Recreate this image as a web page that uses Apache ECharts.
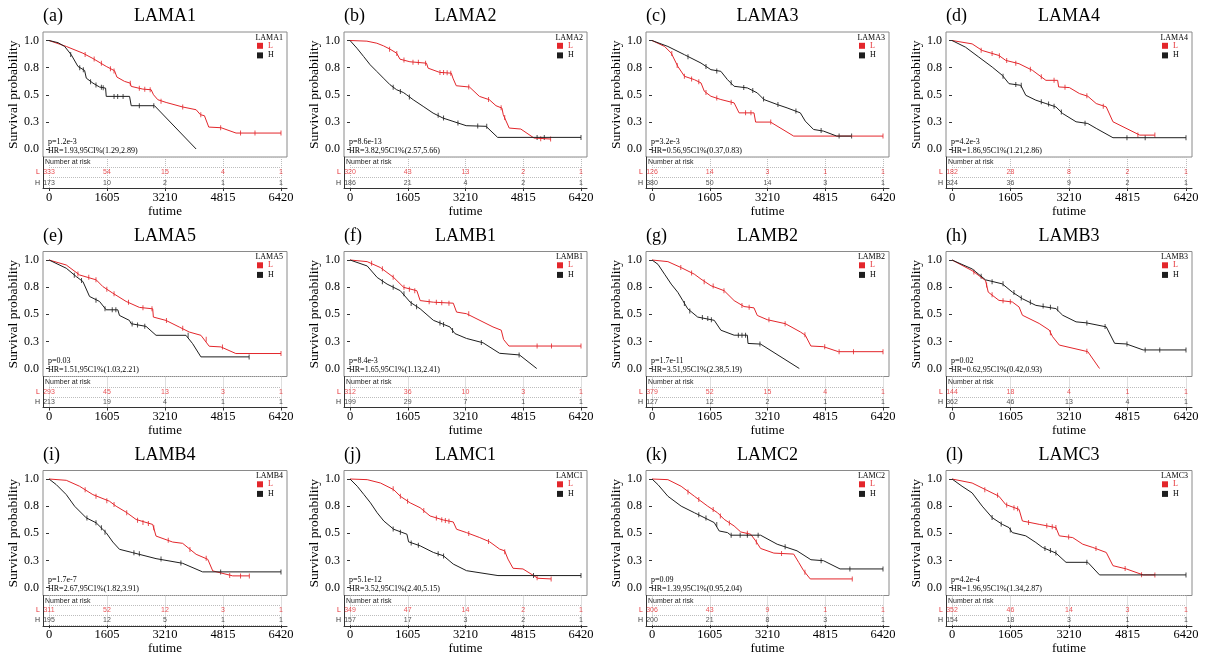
<!DOCTYPE html>
<html>
<head>
<meta charset="utf-8">
<script src="https://cdn.jsdelivr.net/npm/echarts@6/dist/echarts.min.js"></script>
<style>
html,body{margin:0;padding:0;background:#fff;}
#main{width:1205px;height:656px;}
</style>
</head>
<body>
<div id="main"></div>
<script>
// panels
var genes = ['LAMA1','LAMA2','LAMA3','LAMA4','LAMA5','LAMB1','LAMB2','LAMB3','LAMB4','LAMC1','LAMC2','LAMC3'];
var tags = ['(a)','(b)','(c)','(d)','(e)','(f)','(g)','(h)','(i)','(j)','(k)','(l)'];
var pValues = ['1.2e-3','8.6e-13','3.2e-3','4.2e-3','0.03','8.4e-3','1.7e-11','0.02','1.7e-7','5.1e-12','0.09','4.2e-4'];
var hrTexts = ['HR=1.93,95CI%(1.29,2.89)','HR=3.82,95C1%(2.57,5.66)','HR=0.56,95C1%(0.37,0.83)','HR=1.86,95C1%(1.21,2.86)',
  'HR=1.51,95C1%(1.03,2.21)','HR=1.65,95C1%(1.13,2.41)','HR=3.51,95C1%(2.38,5.19)','HR=0.62,95C1%(0.42,0.93)',
  'HR=2.67,95C1%(1.82,3.91)','HR=3.52,95C1%(2.40,5.15)','HR=1.39,95C1%(0.95,2.04)','HR=1.96,95C1%(1.34,2.87)'];

// axes
var timeTicks = [0, 1605, 3210, 4815, 6420];
var yTickLabels = ['0.0', '0.3', '0.5', '0.8', '1.0'];

// number at risk
var riskL = [[333,54,15,4,1],[320,43,13,2,1],[126,14,3,1,1],[182,28,8,2,1],[293,45,13,3,1],[312,36,10,3,1],
  [379,52,15,4,1],[144,18,4,1,1],[311,52,12,3,1],[349,47,14,2,1],[306,43,9,1,1],[352,46,14,3,1]];
var riskH = [[173,10,2,1,1],[186,21,4,2,1],[380,50,14,3,1],[324,36,9,2,1],[213,19,4,1,1],[199,29,7,1,1],
  [127,12,2,1,1],[362,46,13,4,1],[195,12,5,1,1],[157,17,3,2,1],[200,21,8,3,1],[154,18,3,1,1]];

// survival curves, group L (red)
var curvesL = [
  [[0,1],[479,0.945],[939,0.883],[1216,0.834],[1584,0.761],[1814,0.721],[1879,0.663],[2091,0.623],[2247,0.607],[2275,0.577],[2597,0.552],[2827,0.546],[2892,0.5],[3012,0.454],[3242,0.429],[3702,0.387],[4071,0.362],[4191,0.316],[4301,0.307],[4421,0.202],[4762,0.196],[5176,0.147],[6420,0.147]],
  [[0,1],[469,0.994],[745,0.975],[929,0.951],[1113,0.92],[1297,0.883],[1389,0.828],[1665,0.804],[2125,0.791],[2171,0.745],[2493,0.706],[2815,0.699],[2861,0.653],[2953,0.583],[3321,0.571],[3597,0.485],[3873,0.454],[4057,0.399],[4223,0.377],[4260,0.316],[4425,0.193],[4747,0.184],[5115,0.101],[5575,0.092]],
  [[0,1],[350,0.945],[534,0.884],[718,0.761],[902,0.67],[1178,0.639],[1362,0.609],[1454,0.532],[1638,0.486],[1914,0.456],[2282,0.425],[2420,0.333],[2834,0.333],[2880,0.248],[3294,0.248],[3938,0.119],[6420,0.119]],
  [[0,1],[552,0.969],[828,0.908],[1288,0.862],[1472,0.817],[1840,0.786],[2208,0.725],[2576,0.633],[2898,0.633],[2926,0.572],[3220,0.566],[3496,0.511],[3726,0.486],[3956,0.419],[4232,0.388],[4416,0.251],[5152,0.128],[5566,0.128]],
  [[0,1],[478,0.954],[847,0.862],[1306,0.817],[1490,0.755],[1766,0.694],[2134,0.618],[2502,0.563],[2870,0.55],[2888,0.474],[3238,0.443],[3606,0.382],[3882,0.336],[4204,0.306],[4434,0.205],[4756,0.199],[5170,0.138],[6420,0.138]],
  [[0,1],[478,0.985],[847,0.93],[1214,0.839],[1490,0.748],[1858,0.717],[1950,0.626],[2318,0.611],[2870,0.602],[2962,0.52],[3238,0.505],[3974,0.383],[4204,0.353],[4269,0.267],[4416,0.207],[6420,0.207]],
  [[0,1],[442,0.985],[810,0.93],[1178,0.869],[1362,0.824],[1638,0.763],[2006,0.717],[2282,0.626],[2558,0.571],[2834,0.559],[2926,0.489],[3202,0.45],[3708,0.413],[4122,0.337],[4260,0.307],[4416,0.207],[4766,0.201],[5180,0.155],[6420,0.155]],
  [[0,1],[552,0.902],[920,0.811],[994,0.704],[1288,0.628],[1656,0.613],[1840,0.567],[1932,0.491],[2392,0.415],[2668,0.354],[2760,0.293],[2944,0.216],[3726,0.155],[4048,0]],
  [[0,1],[478,0.988],[847,0.933],[1214,0.856],[1674,0.795],[1858,0.749],[2134,0.694],[2410,0.627],[2870,0.581],[2962,0.474],[3422,0.419],[3698,0.407],[4071,0.306],[4393,0.26],[4531,0.153],[5084,0.107],[5544,0.107]],
  [[0,1],[478,0.994],[847,0.963],[1214,0.902],[1398,0.841],[1674,0.78],[1950,0.735],[2226,0.659],[2594,0.622],[2870,0.604],[2962,0.537],[3238,0.506],[3606,0.46],[3882,0.421],[4158,0.354],[4297,0.338],[4390,0.262],[4531,0.177],[4807,0.171],[5222,0.085],[5590,0.079]],
  [[0,1],[442,0.994],[810,0.933],[1178,0.841],[1546,0.75],[1822,0.689],[2006,0.628],[2282,0.567],[2466,0.512],[2742,0.491],[2880,0.43],[3018,0.36],[3386,0.317],[3938,0.308],[4076,0.232],[4214,0.155],[4398,0.079],[5566,0.079]],
  [[0,1],[552,0.963],[920,0.902],[1288,0.841],[1472,0.765],[1840,0.72],[1932,0.613],[2392,0.582],[2852,0.552],[2944,0.476],[3312,0.46],[3588,0.399],[3864,0.369],[4232,0.323],[4416,0.201],[4784,0.171],[5244,0.116],[5566,0.116]]
];

// survival curves, group H (black)
var curvesH = [
  [[0,1],[249,0.98],[433,0.945],[617,0.868],[801,0.761],[985,0.724],[1032,0.653],[1216,0.607],[1400,0.571],[1566,0.561],[1584,0.485],[2229,0.485],[2275,0.399],[2920,0.399],[4071,0]],
  [[0,1],[193,0.929],[377,0.853],[561,0.776],[745,0.715],[929,0.653],[1113,0.592],[1297,0.546],[1481,0.521],[1573,0.5],[1757,0.454],[2033,0.393],[2309,0.331],[2585,0.285],[2861,0.255],[3229,0.215],[3781,0.209],[4103,0.107],[6420,0.107]],
  [[0,1],[442,0.945],[902,0.869],[1362,0.792],[1638,0.731],[1914,0.716],[2098,0.639],[2282,0.578],[2650,0.563],[2926,0.517],[3110,0.456],[3478,0.41],[3754,0.379],[4122,0.333],[4260,0.257],[4490,0.18],[4766,0.165],[5134,0.119],[5548,0.119]],
  [[0,1],[368,0.939],[736,0.847],[1104,0.755],[1380,0.679],[1564,0.602],[1886,0.587],[2024,0.495],[2300,0.45],[2576,0.419],[2852,0.388],[3036,0.327],[3404,0.251],[3726,0.235],[3956,0.19],[4416,0.104],[6420,0.104]],
  [[0,1],[478,0.924],[755,0.847],[939,0.801],[1122,0.664],[1398,0.618],[1582,0.541],[1904,0.541],[1950,0.489],[2226,0.443],[2272,0.413],[2686,0.388],[2962,0.306],[3790,0.306],[3974,0.229],[4204,0.107],[5538,0.107]],
  [[0,1],[478,0.945],[755,0.839],[1030,0.778],[1398,0.717],[1674,0.611],[1950,0.55],[2318,0.444],[2778,0.383],[2916,0.322],[3238,0.277],[3698,0.237],[4158,0.14],[4710,0.125],[5189,0]],
  [[0,1],[166,0.96],[350,0.869],[534,0.778],[718,0.702],[856,0.626],[994,0.55],[1270,0.474],[1730,0.444],[1914,0.353],[2282,0.307],[2650,0.307],[2668,0.231],[3018,0.225],[4094,0]],
  [[0,1],[552,0.918],[920,0.817],[1380,0.78],[1656,0.704],[1932,0.643],[2300,0.582],[2852,0.552],[3036,0.491],[3404,0.43],[3680,0.421],[4232,0.384],[4462,0.232],[4784,0.226],[5244,0.171],[6420,0.171]],
  [[0,1],[202,0.948],[478,0.856],[709,0.749],[1030,0.642],[1306,0.596],[1582,0.505],[1766,0.419],[1950,0.352],[2318,0.321],[2962,0.266],[3698,0.223],[4250,0.144],[6420,0.144]],
  [[0,1],[202,0.933],[386,0.857],[570,0.78],[755,0.689],[939,0.613],[1214,0.537],[1582,0.491],[1628,0.421],[1950,0.384],[2318,0.323],[2594,0.293],[2870,0.216],[3238,0.155],[4112,0.11],[6420,0.11]],
  [[0,1],[166,0.948],[442,0.841],[810,0.75],[1178,0.689],[1362,0.659],[1730,0.598],[1868,0.521],[2098,0.506],[2190,0.482],[3018,0.482],[3478,0.399],[4030,0.338],[4416,0.256],[4766,0.247],[5226,0.171],[6420,0.171]],
  [[0,1],[276,0.933],[552,0.872],[828,0.75],[1104,0.643],[1380,0.582],[1564,0.552],[1656,0.506],[2024,0.476],[2300,0.415],[2484,0.369],[2852,0.317],[3128,0.232],[3726,0.232],[4048,0.116],[6420,0.116]]
];

// censored observations
var censorsL = [
  [[1000,0.87],[1250,0.83],[1450,0.79],[1700,0.74],[1800,0.72],[2250,0.607],[2500,0.56],[2650,0.55],[2800,0.547],[3100,0.44],[3700,0.387],[4200,0.315],[4750,0.196],[5300,0.147],[5700,0.147],[6420,0.147]],
  [[1100,0.92],[1300,0.88],[1500,0.82],[1750,0.80],[1900,0.80],[2100,0.791],[2500,0.706],[2600,0.704],[2700,0.702],[2800,0.699],[3300,0.571],[3850,0.456],[4200,0.38],[4300,0.29],[5300,0.095],[5575,0.092]],
  [[550,0.88],[700,0.77],[900,0.67],[1100,0.645],[1300,0.62],[1500,0.52],[1800,0.47],[2200,0.43],[2600,0.333],[2750,0.333],[3300,0.248],[6420,0.119]],
  [[800,0.91],[1100,0.88],[1300,0.86],[1500,0.815],[1750,0.79],[2150,0.735],[2450,0.665],[2800,0.633],[3100,0.568],[3700,0.49],[4150,0.395],[5100,0.13],[5566,0.128]],
  [[800,0.87],[1100,0.84],[1300,0.817],[1600,0.73],[1800,0.69],[2200,0.61],[2600,0.56],[2850,0.55],[3250,0.443],[3700,0.37],[4350,0.27],[4800,0.199],[6420,0.138]],
  [[600,0.97],[900,0.92],[1200,0.84],[1500,0.748],[1650,0.73],[1800,0.717],[2200,0.615],[2400,0.61],[2550,0.606],[2750,0.602],[3300,0.505],[5200,0.207],[5600,0.207],[6420,0.207]],
  [[800,0.93],[1100,0.88],[1450,0.80],[1700,0.76],[2000,0.717],[2500,0.58],[2700,0.565],[3250,0.45],[3700,0.413],[4250,0.31],[4800,0.2],[5200,0.155],[5600,0.155],[6420,0.155]],
  [[600,0.89],[950,0.77],[1100,0.68],[1400,0.625],[1600,0.615],[2700,0.33],[3700,0.158]],
  [[1000,0.90],[1300,0.84],[1600,0.80],[1800,0.765],[2150,0.69],[2450,0.62],[2600,0.60],[2750,0.59],[2900,0.55],[3300,0.435],[3900,0.35],[4350,0.27],[5000,0.11],[5300,0.107],[5544,0.107]],
  [[1200,0.91],[1400,0.841],[1600,0.795],[2050,0.71],[2400,0.64],[2550,0.625],[2650,0.618],[2750,0.61],[3300,0.498],[3850,0.425],[4300,0.33],[5200,0.09],[5590,0.079]],
  [[1000,0.88],[1300,0.81],[1700,0.72],[1900,0.66],[2150,0.595],[2650,0.50],[2900,0.42],[3600,0.313],[4250,0.14],[5566,0.079]],
  [[900,0.90],[1250,0.85],[1500,0.76],[1700,0.735],[1800,0.725],[2100,0.60],[2600,0.57],[2750,0.56],[2850,0.552],[3200,0.465],[3950,0.36],[4750,0.174],[5200,0.118],[5566,0.116]]
];
var censorsH = [
  [[600,0.87],[850,0.75],[950,0.73],[1150,0.62],[1300,0.59],[1450,0.57],[1500,0.565],[1800,0.485],[1900,0.485],[2050,0.485],[2500,0.399],[2900,0.399]],
  [[1200,0.57],[1400,0.53],[1650,0.48],[2450,0.31],[2600,0.285],[3000,0.24],[3550,0.212],[3800,0.209],[5200,0.107],[5400,0.107],[6420,0.107]],
  [[1000,0.85],[1500,0.76],[1800,0.72],[2200,0.61],[2550,0.566],[2800,0.54],[3100,0.46],[3500,0.41],[4000,0.35],[4700,0.17],[5200,0.119],[5548,0.119]],
  [[1400,0.67],[1750,0.595],[1900,0.587],[2450,0.435],[2650,0.415],[2800,0.395],[3000,0.34],[3650,0.237],[4800,0.104],[5300,0.104],[6420,0.104]],
  [[700,0.86],[900,0.81],[1300,0.63],[1550,0.55],[1750,0.541],[1850,0.541],[2300,0.41],[2450,0.40],[2650,0.39],[3850,0.306],[5538,0.107]],
  [[900,0.80],[1200,0.75],[1500,0.69],[1700,0.60],[1850,0.57],[2500,0.42],[2600,0.405],[2850,0.35],[3650,0.24],[4700,0.125]],
  [[900,0.60],[1050,0.53],[1400,0.47],[1550,0.46],[1650,0.45],[2400,0.307],[2500,0.307],[2600,0.307],[3000,0.225]],
  [[800,0.85],[1100,0.80],[1400,0.78],[1700,0.70],[1900,0.65],[2150,0.61],[2500,0.575],[2700,0.565],[2900,0.55],[3700,0.42],[4200,0.386],[4800,0.226],[5300,0.171],[5700,0.171],[6420,0.171]],
  [[1050,0.64],[1300,0.597],[1450,0.55],[1550,0.51],[2350,0.321],[2500,0.31],[3100,0.263],[3650,0.225],[4750,0.144],[6420,0.144]],
  [[1200,0.54],[1400,0.51],[1700,0.41],[1900,0.39],[2450,0.31],[2600,0.29],[5100,0.11],[6420,0.11]],
  [[1300,0.67],[1500,0.64],[1800,0.58],[2200,0.482],[2450,0.482],[2650,0.482],[2950,0.482],[3700,0.375],[4700,0.247],[5500,0.171],[6420,0.171]],
  [[1100,0.645],[1350,0.585],[1600,0.53],[2550,0.36],[2700,0.34],[2850,0.317],[3700,0.232],[6420,0.116]]
];

var RED = '#e3262b', BLACK = '#1e1e1e';
var SERIF = '"Liberation Serif","Times New Roman",serif';
var SANS = '"Liberation Sans",Arial,sans-serif';

// layout of the 4 x 3 panels
var colLeft = [43, 344, 646, 946];
var colRight = [287, 587, 889, 1192];
var rowTop = [32, 251.5, 470.5];
var boxH = 125, tableH = 31, padX = 6, padTop = 8.5, padBottom = 8;

var grid = [], xAxis = [], yAxis = [], series = [], legend = [], title = [], graphic = [];

for (var i = 0; i < genes.length; i++) {
  var c = i % 4, r = Math.floor(i / 4);
  var L = colLeft[c], R = colRight[c], T = rowTop[r], B = T + boxH, W = R - L;
  var g = i * 4;

  //plot frame
  grid.push({left: L, top: T, width: W, height: boxH, show: true, borderColor: '#8a8a8a', borderWidth: 1});
  xAxis.push({gridIndex: g, type: 'value', min: 0, max: 1, show: false});
  yAxis.push({gridIndex: g, type: 'value', min: 0, max: 1, show: false});

  //plot data area
  grid.push({left: L + padX, top: T + padTop, width: W - 2 * padX, height: boxH - padTop - padBottom});
  xAxis.push({gridIndex: g + 1, type: 'value', min: 0, max: 6420, interval: 1605, show: false});
  yAxis.push({
    gridIndex: g + 1, type: 'value', min: 0, max: 1, interval: 0.25, offset: padX,
    axisLine: {show: false},
    axisTick: {show: true, length: 3, lineStyle: {color: '#333'}},
    axisLabel: {margin: 4, fontFamily: SERIF, fontSize: 12, color: '#000',
      formatter: function(v) { return yTickLabels[Math.round(v * 4)]; }},
    splitLine: {show: false},
    name: 'Survival probability', nameLocation: 'middle', nameGap: 23,
    nameTextStyle: {fontFamily: SERIF, fontSize: 13.5, color: '#000'}
  });

  //risk table frame
  grid.push({left: L, top: B, width: W, height: tableH});
  xAxis.push({gridIndex: g + 2, type: 'value', min: 0, max: 1,
    axisLine: {show: true, onZero: false, lineStyle: {color: '#333'}},
    axisTick: {show: false}, axisLabel: {show: false}, splitLine: {show: false}});
  yAxis.push({gridIndex: g + 2, type: 'value', min: 0, max: 1,
    axisLine: {show: true, onZero: false, lineStyle: {color: '#333'}},
    axisTick: {show: false}, axisLabel: {show: false}, splitLine: {show: false}});

  //risk table data area
  grid.push({left: L + padX, top: B, width: W - 2 * padX, height: tableH});
  xAxis.push({
    gridIndex: g + 3, type: 'value', min: 0, max: 6420, interval: 1605,
    axisLine: {show: false},
    axisTick: {show: true, length: 3, lineStyle: {color: '#333'}},
    axisLabel: {margin: 3, fontFamily: SERIF, fontSize: 12.5, color: '#000',
      formatter: function(v) { return String(v); }},
    splitLine: {show: true, lineStyle: {type: 'dotted', color: '#bdbdbd'}},
    name: 'futime', nameLocation: 'middle', nameGap: 15,
    nameTextStyle: {fontFamily: SERIF, fontSize: 13, color: '#000'}
  });
  yAxis.push({
    gridIndex: g + 3, type: 'category', data: ['H', 'L', ''], offset: padX,
    axisLine: {show: false}, axisTick: {show: false},
    axisLabel: {margin: 3, fontFamily: SANS, fontSize: 7,
      color: function(v) { return v === 'L' ? RED : '#333'; }},
    splitLine: {show: true, interval: 0, lineStyle: {type: 'dotted', color: '#bdbdbd'}}
  });

  //curves
  series.push({type: 'line', name: 'L', xAxisIndex: g + 1, yAxisIndex: g + 1, data: curvesL[i],
    symbol: 'none', showSymbol: false, clip: false, silent: true,
    lineStyle: {width: 1, color: RED}, itemStyle: {color: RED}});
  series.push({type: 'line', name: 'H', xAxisIndex: g + 1, yAxisIndex: g + 1, data: curvesH[i],
    symbol: 'none', showSymbol: false, clip: false, silent: true,
    lineStyle: {width: 1, color: BLACK}, itemStyle: {color: BLACK}});
  series.push({type: 'scatter', name: 'censorL', xAxisIndex: g + 1, yAxisIndex: g + 1, data: censorsL[i],
    symbol: 'rect', symbolSize: [1, 5], silent: true, itemStyle: {color: RED}});
  series.push({type: 'scatter', name: 'censorH', xAxisIndex: g + 1, yAxisIndex: g + 1, data: censorsH[i],
    symbol: 'rect', symbolSize: [1, 5], silent: true, itemStyle: {color: BLACK}});

  //numbers at risk
  series.push({type: 'scatter', name: 'riskL', xAxisIndex: g + 3, yAxisIndex: g + 3,
    data: riskL[i].map(function(n, k) { return [timeTicks[k], 1, n]; }),
    symbolSize: 1, silent: true, itemStyle: {color: 'rgba(0,0,0,0)'},
    label: {show: true, position: 'inside', fontFamily: SANS, fontSize: 7, color: RED,
      formatter: function(p) { return p.value[2]; }}});
  series.push({type: 'scatter', name: 'riskH', xAxisIndex: g + 3, yAxisIndex: g + 3,
    data: riskH[i].map(function(n, k) { return [timeTicks[k], 0, n]; }),
    symbolSize: 1, silent: true, itemStyle: {color: 'rgba(0,0,0,0)'},
    label: {show: true, position: 'inside', fontFamily: SANS, fontSize: 7, color: '#222',
      formatter: function(p) { return p.value[2]; }}});

  legend.push({
    orient: 'vertical', left: R - 30, top: T + 9.8, padding: 0, itemGap: 1.6,
    itemWidth: 6, itemHeight: 6, icon: 'rect', selectedMode: false,
    textStyle: {fontFamily: SERIF, fontSize: 8},
    data: [{name: 'L', textStyle: {color: RED}}, {name: 'H', textStyle: {color: '#000'}}]
  });

  title.push({text: tags[i], left: L, top: T - 24.5, padding: 0,
    textStyle: {fontFamily: SERIF, fontSize: 18, fontWeight: 'normal', color: '#000'}});
  title.push({text: genes[i], left: (L + R) / 2, top: T - 24.5, padding: 0, textAlign: 'center',
    textStyle: {fontFamily: SERIF, fontSize: 18, fontWeight: 'normal', color: '#000'}});

  graphic.push({type: 'text', x: R - 4, y: T + 5.8, silent: true,
    style: {text: genes[i], align: 'right', textAlign: 'right', verticalAlign: 'middle', textVerticalAlign: 'middle',
      fontFamily: SERIF, fontSize: 8, fill: '#000'}});
  graphic.push({type: 'text', x: L + 5, y: T + 109.5, silent: true,
    style: {text: 'p=' + pValues[i], align: 'left', textAlign: 'left', verticalAlign: 'middle', textVerticalAlign: 'middle',
      fontFamily: SERIF, fontSize: 8, fill: '#000'}});
  graphic.push({type: 'text', x: L + 5, y: T + 118.5, silent: true,
    style: {text: hrTexts[i], align: 'left', textAlign: 'left', verticalAlign: 'middle', textVerticalAlign: 'middle',
      fontFamily: SERIF, fontSize: 8, fill: '#000'}});
  graphic.push({type: 'text', x: L + 2, y: B + 5.5, silent: true,
    style: {text: 'Number at risk', align: 'left', textAlign: 'left', verticalAlign: 'middle', textVerticalAlign: 'middle',
      fontFamily: SANS, fontSize: 7, fill: '#222'}});
}

var myChart = echarts.init(document.getElementById('main'));
myChart.setOption({
  animation: false,
  backgroundColor: '#fff',
  title: title,
  legend: legend,
  grid: grid,
  xAxis: xAxis,
  yAxis: yAxis,
  series: series,
  graphic: graphic
});
</script>
</body>
</html>
